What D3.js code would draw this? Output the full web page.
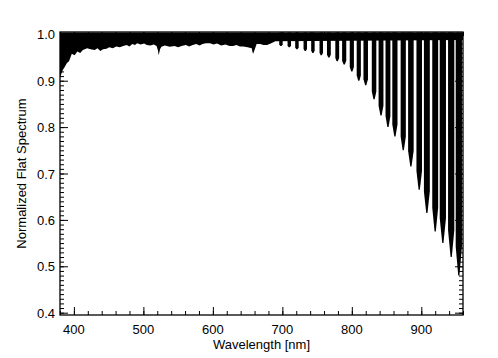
<!DOCTYPE html>
<html>
<head>
<meta charset="utf-8">
<script src="https://cdn.jsdelivr.net/npm/d3@7"></script>
<style>
  body { margin: 0; background: #fff; }
  svg text { font-family: "Liberation Sans", Arial, sans-serif; fill: #000; }
</style>
</head>
<body>
<svg id="chart" width="498" height="358"></svg>
<script>
// Continuum (lower edge of the dense band)
var contWl  = [380, 382, 384, 387, 390, 393, 397, 401, 405, 409, 413, 419, 424, 430, 434, 438, 442, 447, 451, 456, 461, 466, 471, 476, 480, 484, 488, 491, 496, 501, 505, 510, 515, 519, 521, 522, 524, 526, 531, 538, 545, 550, 555, 561, 566, 571, 576, 581, 585, 590, 596, 601, 606, 612, 618, 624, 629, 634, 639, 644, 650, 656, 657, 658, 660, 663, 668, 673, 678, 684, 690, 960];
var contLow = [0.906, 0.915, 0.923, 0.930, 0.938, 0.942, 0.958, 0.955, 0.963, 0.960, 0.966, 0.970, 0.968, 0.966, 0.970, 0.964, 0.968, 0.969, 0.972, 0.970, 0.974, 0.972, 0.975, 0.977, 0.974, 0.979, 0.977, 0.981, 0.978, 0.980, 0.977, 0.976, 0.978, 0.975, 0.965, 0.955, 0.968, 0.973, 0.976, 0.973, 0.975, 0.972, 0.975, 0.977, 0.974, 0.977, 0.979, 0.976, 0.979, 0.981, 0.981, 0.978, 0.980, 0.976, 0.978, 0.975, 0.975, 0.977, 0.974, 0.974, 0.972, 0.970, 0.962, 0.958, 0.966, 0.979, 0.979, 0.977, 0.977, 0.981, 0.985, 0.988];
var upperLevel = 1.004;

// Fringe dips: centre wavelength, minimum, width (nm)
var fringeWl    = [698, 710, 721, 733, 744, 756, 767, 779, 789, 800, 810, 820, 832, 842, 852, 862, 874, 885, 897, 908, 920, 931, 943, 954];
var fringeMin   = [0.975, 0.972, 0.968, 0.964, 0.960, 0.955, 0.950, 0.942, 0.935, 0.920, 0.900, 0.890, 0.860, 0.825, 0.800, 0.780, 0.750, 0.715, 0.665, 0.615, 0.575, 0.550, 0.520, 0.480];
var fringeWidth = [5, 5, 5, 5, 5, 5, 5.5, 5.5, 6, 6, 6, 6.5, 6.5, 7, 7, 7.5, 7.5, 8, 8, 8.5, 8.5, 9, 9, 9];

var xTicks = [400, 500, 600, 700, 800, 900];
var yTicks = [0.4, 0.5, 0.6, 0.7, 0.8, 0.9, 1.0];

var margin = {left: 60, top: 32, right: 35, bottom: 43},
    width = 498 - margin.left - margin.right,
    height = 358 - margin.top - margin.bottom;

var svg = d3.select('#chart');
var g = svg.append('g').attr('transform', 'translate(' + margin.left + ',' + margin.top + ')');

var x = d3.scaleLinear().domain([380, 960]).range([0, width]);
var y = d3.scaleLinear().domain([0.395, 1.005]).range([height, 0]);

g.append('clipPath').attr('id', 'plotClip')
  .append('rect').attr('width', width).attr('height', height);

var plot = g.append('g').attr('clip-path', 'url(#plotClip)');

// Dense band between the continuum and the top
var contData = contWl.map(function(w, i) { return {wl: w, low: contLow[i]}; });
var area = d3.area()
  .x(function(d) { return x(d.wl); })
  .y0(function(d) { return y(d.low); })
  .y1(function() { return y(upperLevel); });
plot.append('path').datum(contData).attr('d', area).attr('fill', '#000');

// Fringe spikes: near-rectangular bars with a slightly tapered tip
var fringes = fringeWl.map(function(w, i) { return {wl: w, min: fringeMin[i], w: fringeWidth[i]}; });
plot.selectAll('.fringe')
  .data(fringes)
  .enter().append('path')
    .attr('class', 'fringe')
    .attr('fill', '#000')
    .attr('d', function(d) {
      var x0 = x(d.wl - d.w / 2), x1 = x(d.wl + d.w / 2), xm = x(d.wl);
      var tip = y(d.min), knee = y(d.min + (1 - d.min) * 0.12);
      return 'M' + x0 + ',' + y(upperLevel) + 'L' + x1 + ',' + y(upperLevel) +
             'L' + x1 + ',' + knee + 'L' + (xm + 0.6) + ',' + tip +
             'L' + (xm - 0.6) + ',' + tip + 'L' + x0 + ',' + knee + 'Z';
    });

// Axes: ticks point inward on all four sides
var xMinor = d3.range(380, 961, 20), yMinor = d3.range(0.40, 1.0051, 0.01);
function drawX(sel, dir) {
  sel.append('g').attr('transform', 'translate(0,' + (dir > 0 ? height : 0) + ')')
    .call(d3.axisBottom(x).tickValues(xMinor).tickSize(-4 * dir).tickFormat(''))
    .call(function(a) { a.select('.domain').remove(); });
  sel.append('g').attr('transform', 'translate(0,' + (dir > 0 ? height : 0) + ')')
    .call(d3.axisBottom(x).tickValues(xTicks).tickSize(-8 * dir).tickFormat(''))
    .call(function(a) { a.select('.domain').remove(); });
}
function drawY(sel, dir) {
  sel.append('g').attr('transform', 'translate(' + (dir > 0 ? 0 : width) + ',0)')
    .call(d3.axisLeft(y).tickValues(yMinor).tickSize(-4 * dir).tickFormat(''))
    .call(function(a) { a.select('.domain').remove(); });
  sel.append('g').attr('transform', 'translate(' + (dir > 0 ? 0 : width) + ',0)')
    .call(d3.axisLeft(y).tickValues(yTicks).tickSize(-8 * dir).tickFormat(''))
    .call(function(a) { a.select('.domain').remove(); });
}
drawX(g, 1); drawX(g, -1); drawY(g, 1); drawY(g, -1);
g.selectAll('.tick line').attr('stroke', '#000').attr('stroke-width', 1);

g.append('rect').attr('width', width).attr('height', height)
  .attr('fill', 'none').attr('stroke', '#000').attr('stroke-width', 1.3);

// Tick labels
g.selectAll('.xlab').data(xTicks).enter().append('text')
  .attr('x', function(d) { return x(d); }).attr('y', height + 19)
  .attr('text-anchor', 'middle').attr('font-size', 13).text(function(d) { return d; });
g.selectAll('.ylab').data(yTicks).enter().append('text')
  .attr('x', -5).attr('y', function(d) { return y(d) + 5; })
  .attr('text-anchor', 'end').attr('font-size', 13).text(function(d) { return d.toFixed(1); });

// Axis titles
g.append('text').attr('x', width / 2).attr('y', height + 34)
  .attr('text-anchor', 'middle').attr('font-size', 13).text('Wavelength [nm]');
g.append('text').attr('transform', 'translate(-34,' + (height / 2) + ') rotate(-90)')
  .attr('text-anchor', 'middle').attr('font-size', 13).text('Normalized Flat Spectrum');
</script>
</body>
</html>
